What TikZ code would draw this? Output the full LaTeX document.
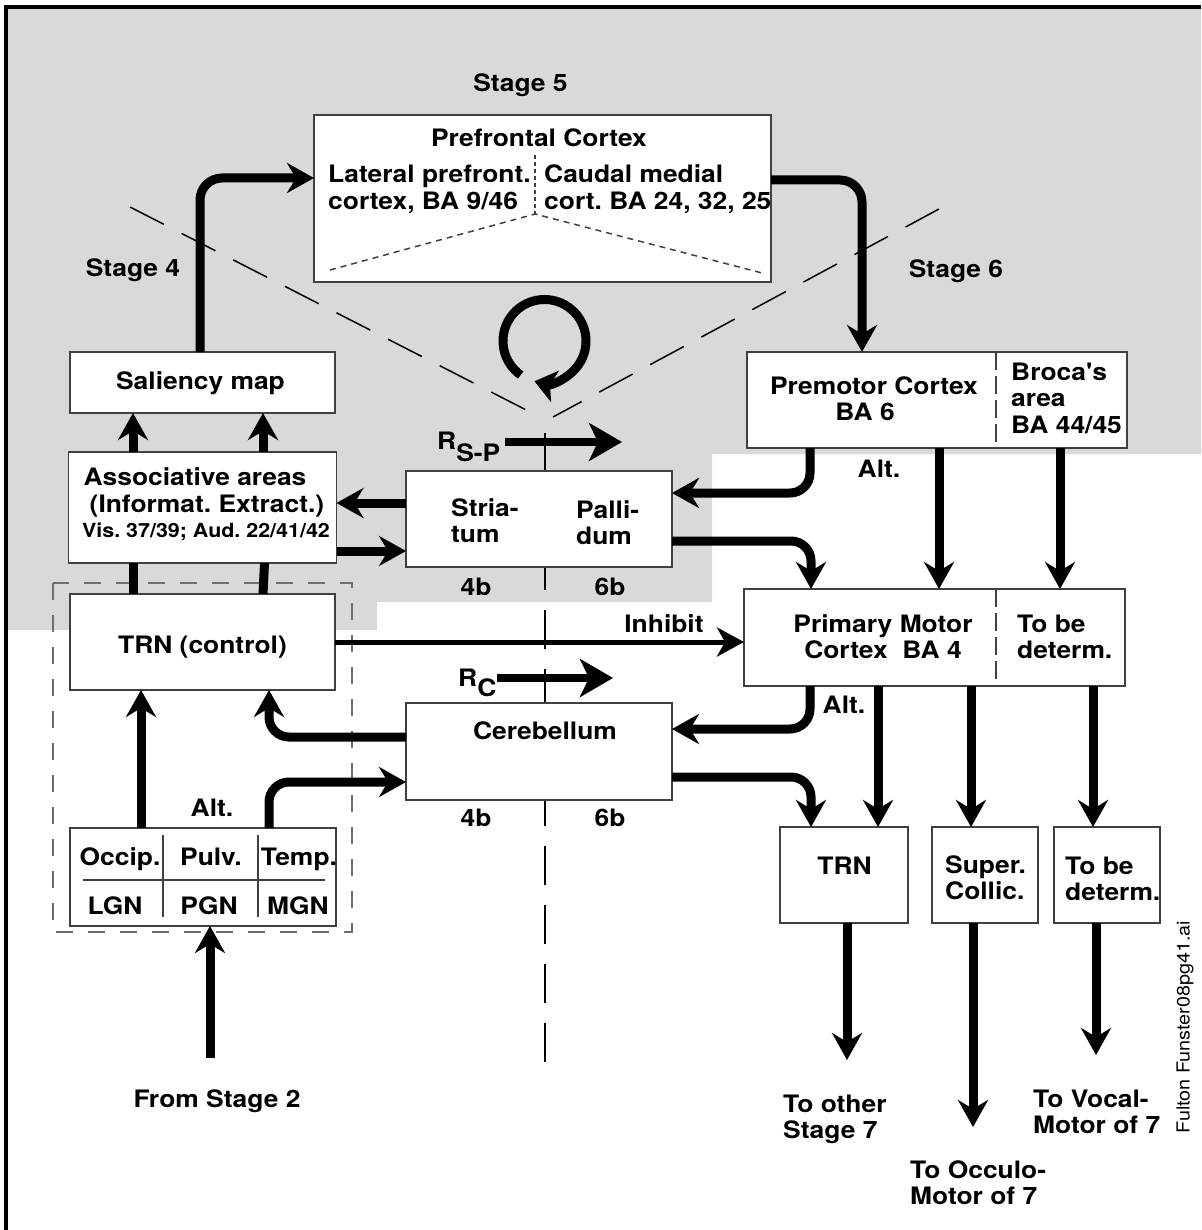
\documentclass[tikz,border=0pt]{standalone}
\usepackage{fontspec}
\setmainfont{TeX Gyre Heros}[FakeStretch=1.1, Ligatures=TeXOff]
\usetikzlibrary{arrows.meta,calc}
\definecolor{bg}{HTML}{D9D9D9}
\definecolor{boxc}{HTML}{404040}
\definecolor{dashc}{HTML}{6E6E6E}
\newcommand{\lbfont}{\fontsize{24}{26.5}\selectfont\bfseries\frenchspacing}
\newcommand{\smfont}{\fontsize{19.5}{22}\selectfont\bfseries\frenchspacing}
\newcommand{\fulfont}{\fontsize{18}{20}\selectfont}
\newcommand{\LinesL}[1]{\begin{tabular}[t]{@{}l@{}}#1\end{tabular}}
\newcommand{\LinesC}[1]{\begin{tabular}[t]{@{}c@{}}#1\end{tabular}}
\begin{document}
\begin{tikzpicture}[x=1pt,y=-1pt,
  box/.style={draw=boxc, line width=1.5pt, fill=white, inner sep=0pt, outer sep=0pt, rectangle},
  arr/.style={line width=9pt, -{Stealth[length=27pt,width=30pt,inset=9pt]}},
  bar/.style={line width=9pt},
  rarr/.style={line width=8pt, -{Stealth[length=33pt,width=38pt,inset=9pt]}},
  inh/.style={line width=5pt, -{Stealth[length=27pt,width=29pt,inset=8pt]}},
  diag/.style={line width=1.5pt, dash pattern=on 38pt off 20pt},
  divd/.style={draw=boxc, line width=1.5pt, dash pattern=on 18pt off 6pt},
  inner/.style={draw=boxc, line width=1.5pt},
  lbl/.style={font=\lbfont, inner sep=0pt},
  sml/.style={font=\smfont, inner sep=0pt}]
\useasboundingbox (0,0) rectangle (1201,1230);
% background
\fill[bg] (6,7) -- (1201,7) -- (1201,454) -- (712,454) -- (712,602) -- (377,602) -- (377,630) -- (6,630) -- cycle;
\draw[line width=4pt] (6,1230) -- (6,7) -- (1201,7);
% dashed guide lines
\draw[diag] (130,207) -- (536,415);
\draw[diag] (939,209) -- (553,417);
\draw[line width=1.5pt, dash pattern=on 39pt off 20pt] (545,433) -- (545,1063);
\draw[dashc, line width=2pt, dash pattern=on 17pt off 15pt] (53,583) rectangle (352,932);
% boxes
\node[box, minimum width=457pt, minimum height=167pt] (pf) at (542.5,198.5) {};
\node[box, minimum width=265pt, minimum height=61pt] (sal) at (202.5,382.5) {};
\node[box, minimum width=268pt, minimum height=111pt] (assoc) at (202.5,507.5) {};
\node[box, minimum width=265pt, minimum height=96pt] (trnc) at (202.5,642) {};
\node[box, minimum width=266pt, minimum height=98pt] (thal) at (203,877) {};
\node[box, minimum width=266pt, minimum height=96pt] (stri) at (539,519) {};
\node[box, minimum width=266pt, minimum height=97pt] (cereb) at (539,751.5) {};
\node[box, minimum width=380pt, minimum height=96pt] (pm) at (937,400) {};
\node[box, minimum width=381pt, minimum height=97pt] (m1) at (934.5,637.5) {};
\node[box, minimum width=128pt, minimum height=96pt] (trnb) at (844,875) {};
\node[box, minimum width=106pt, minimum height=96pt] (sc) at (985,875) {};
\node[box, minimum width=106pt, minimum height=96pt] (tbd) at (1107,875) {};
% box internals
\draw[draw=boxc, line width=1.2pt, dash pattern=on 4pt off 3pt] ($(pf.center)+(-7.5,-43.5)$) -- ($(pf.center)+(-7.5,15.5)$);
\draw[draw=boxc, line width=1.5pt, dash pattern=on 6pt off 5pt] ($(pf.center)+(-212.5,71.5)$) -- ($(pf.center)+(-7.5,15.5)$) -- ($(pf.center)+(219.5,74.5)$);
\draw[divd] ($(pm.north)+(59,0)$) -- ($(pm.south)+(59,0)$);
\draw[divd] ($(m1.north)+(61.5,0)$) -- ($(m1.south)+(61.5,0)$);
\draw[inner] ($(thal.center)+(-120,3)$) -- ($(thal.center)+(122,3)$);
\draw[inner] ($(thal.center)+(-40,-42)$) -- ($(thal.center)+(-40,40)$);
\draw[inner] ($(thal.center)+(55,-42)$) -- ($(thal.center)+(55,40)$);
% loop arrow
\draw[line width=9pt, -{Stealth[length=21pt,width=32pt,inset=5pt]}] ([shift={(235:41.5pt)}]544.5,341) arc[start angle=235, end angle=-104, radius=41.5pt];
% connectors
\draw[arr, rounded corners=22pt] ($(sal.north)+(-2.5,0)$) |- ($(pf.west)+(0,-20.5)$);
\draw[arr, rounded corners=22pt] ($(pf.east)+(0,-18.5)$) -| ($(pm.north)+(-75,0)$);
\draw[arr] ($(assoc.north)+(-69.5,0)$) -- ($(sal.south)+(-69.5,0)$);
\draw[arr] ($(assoc.north)+(60.5,0)$) -- ($(sal.south)+(60.5,0)$);
\draw[bar] ($(trnc.north)+(-69.5,0)$) -- ($(assoc.south)+(-69.5,0)$);
\draw[bar] ($(trnc.north)+(60.5,0)$) -- ($(assoc.south)+(62,0)$);
\draw[arr] ($(stri.west)+(0,-16)$) -- ($(assoc.east)+(0,-4.5)$);
\draw[arr] ($(assoc.east)+(0,43.5)$) -- ($(stri.west)+(0,32)$);
\draw[inh] (trnc.east) -- ($(m1.west)+(0,4.5)$);
\draw[arr] ($(thal.north)+(-62,0)$) -- ($(trnc.south)+(-61.5,0)$);
\draw[arr, rounded corners=20pt] ($(thal.north)+(66,0)$) |- ($(cereb.west)+(0,30.5)$);
\draw[arr, rounded corners=20pt] ($(cereb.west)+(0,-14.5)$) -| ($(trnc.south)+(66.5,0)$);
\coordinate (s2) at (210,1058);
\draw[arr] (s2) -- ($(thal.south)+(7,0)$);
\draw[arr, rounded corners=20pt] ($(pm.south)+(-127,0)$) |- ($(stri.east)+(0,-26)$);
\draw[arr, rounded corners=20pt] ($(stri.east)+(0,22)$) -| ($(m1.north)+(-123.5,0)$);
\draw[arr, rounded corners=20pt] ($(m1.south)+(-124.5,0)$) |- ($(cereb.east)+(0,-22.5)$);
\draw[arr, rounded corners=20pt] ($(cereb.east)+(0,25.5)$) -| ($(trnb.north)+(-33,0)$);
\draw[arr] ($(pm.south)+(2,0)$) -- ($(m1.north)+(4.5,0)$);
\draw[arr] ($(pm.south)+(123,0)$) -- ($(m1.north)+(125.5,0)$);
\draw[arr] ($(m1.south)+(-56.5,0)$) -- ($(trnb.north)+(34,0)$);
\draw[arr] ($(m1.south)+(36.5,0)$) -- ($(sc.north)+(-14,0)$);
\draw[arr] ($(m1.south)+(158.5,0)$) -- ($(tbd.north)+(-14,0)$);
\coordinate (o1) at (847,1060);
\coordinate (o2) at (973,1127);
\coordinate (o3) at (1096,1055);
\draw[arr] ($(trnb.south)+(3,0)$) -- (o1);
\draw[arr] ($(sc.south)+(-12,0)$) -- (o2);
\draw[arr] ($(tbd.south)+(-11,0)$) -- (o3);
\coordinate (rs1) at (505,442);
\coordinate (rs2) at (622,442);
\draw[rarr] (rs1) -- (rs2);
\coordinate (rc1) at (497,678);
\coordinate (rc2) at (613,678);
\draw[rarr] (rc1) -- (rc2);
% texts
\node[lbl, anchor=base] (ts5) at (520.5,92) {Stage 5};
\node[lbl, anchor=base] (ts4) at (133,277) {Stage 4};
\node[lbl, anchor=base] (ts6) at (956,278) {Stage 6};
\node[lbl, anchor=base] (tpf) at (539,147) {Prefrontal Cortex};
\node[lbl, anchor=base west] (tlat) at (328,183) {\LinesL{Lateral prefront.\\cortex, BA 9/46}};
\node[lbl, anchor=base west] (tcau) at (544,183) {\LinesL{Caudal medial\\cort. BA 24, 32, 25}};
\node[lbl, anchor=base] (tsal) at (200.5,389) {Saliency map};
\node[lbl, anchor=base] (tas1) at (195,485) {Associative areas};
\node[lbl, anchor=base] (tas2) at (207,512) {(Informat. Extract.)};
\node[sml, anchor=base] (tas3) at (206,537) {Vis. 37/39; Aud. 22/41/42};
\node[lbl, anchor=base] (ttrnc) at (202.5,653) {TRN (control)};
\node[lbl, anchor=base] (talt1) at (212,816) {Alt.};
\node[lbl, anchor=base] (toc) at (120,865) {Occip.};
\node[lbl, anchor=base] (tpu) at (211,865) {Pulv.};
\node[lbl, anchor=base] (tte) at (299,865) {Temp.};
\node[lbl, anchor=base] (tlg) at (115,914) {LGN};
\node[lbl, anchor=base] (tpg) at (209,914) {PGN};
\node[lbl, anchor=base] (tmg) at (298,914) {MGN};
\node[lbl, anchor=base] (tfrom) at (217,1107) {From Stage 2};
\node[lbl, anchor=base west] (tstr) at (451,516) {\LinesL{Stria-\\tum}};
\node[lbl, anchor=base west] (tpal) at (576,518) {\LinesL{Palli-\\dum}};
\node[lbl, anchor=base] (t4a) at (476,595) {4b};
\node[lbl, anchor=base] (t6a) at (610,595) {6b};
\node[lbl, anchor=base] (t4b) at (476,826) {4b};
\node[lbl, anchor=base] (t6b) at (610,826) {6b};
\node[lbl, anchor=base west] (trsp) at (437,449) {R\raisebox{-12pt}{S-P}};
\node[lbl, anchor=base west] (trc) at (458,686) {R\raisebox{-10pt}{C}};
\node[lbl, anchor=base] (tinh) at (664,632) {Inhibit};
\node[lbl, anchor=base] (tcer) at (545,739) {Cerebellum};
\node[lbl, anchor=base] (tpm) at (874,394) {\LinesC{Premotor Cortex\\BA 6\hspace*{18pt}}};
\node[lbl, anchor=base west] (tbro) at (1011,380) {\LinesL{Broca's\\area\\BA 44/45}};
\node[lbl, anchor=base] (talt2) at (879,477) {Alt.};
\node[lbl, anchor=base] (tm1) at (883,632) {\LinesC{Primary Motor\\Cortex\ \ BA 4}};
\node[lbl, anchor=base west] (ttb1) at (1017,632) {\LinesL{To be\\determ.}};
\node[lbl, anchor=base] (talt3) at (844,713) {Alt.};
\node[lbl, anchor=base] (ttrnb) at (844.5,874) {TRN};
\node[lbl, anchor=base west] (tsc) at (945,873) {\LinesL{Super.\\Collic.}};
\node[lbl, anchor=base west] (ttb2) at (1065,874) {\LinesL{To be\\determ.}};
\node[lbl, anchor=base west] (tout1) at (783,1112) {\LinesL{To other\\Stage 7}};
\node[lbl, anchor=base west] (tout2) at (910,1178) {\LinesL{To Occulo-\\Motor of 7}};
\node[lbl, anchor=base west] (tout3) at (1033,1107) {\LinesL{To Vocal-\\Motor of 7}};
\node[font=\fulfont, inner sep=0pt, rotate=90] (tful) at (1185,1027) {Fulton Funster08pg41.ai};
\end{tikzpicture}
\end{document}
